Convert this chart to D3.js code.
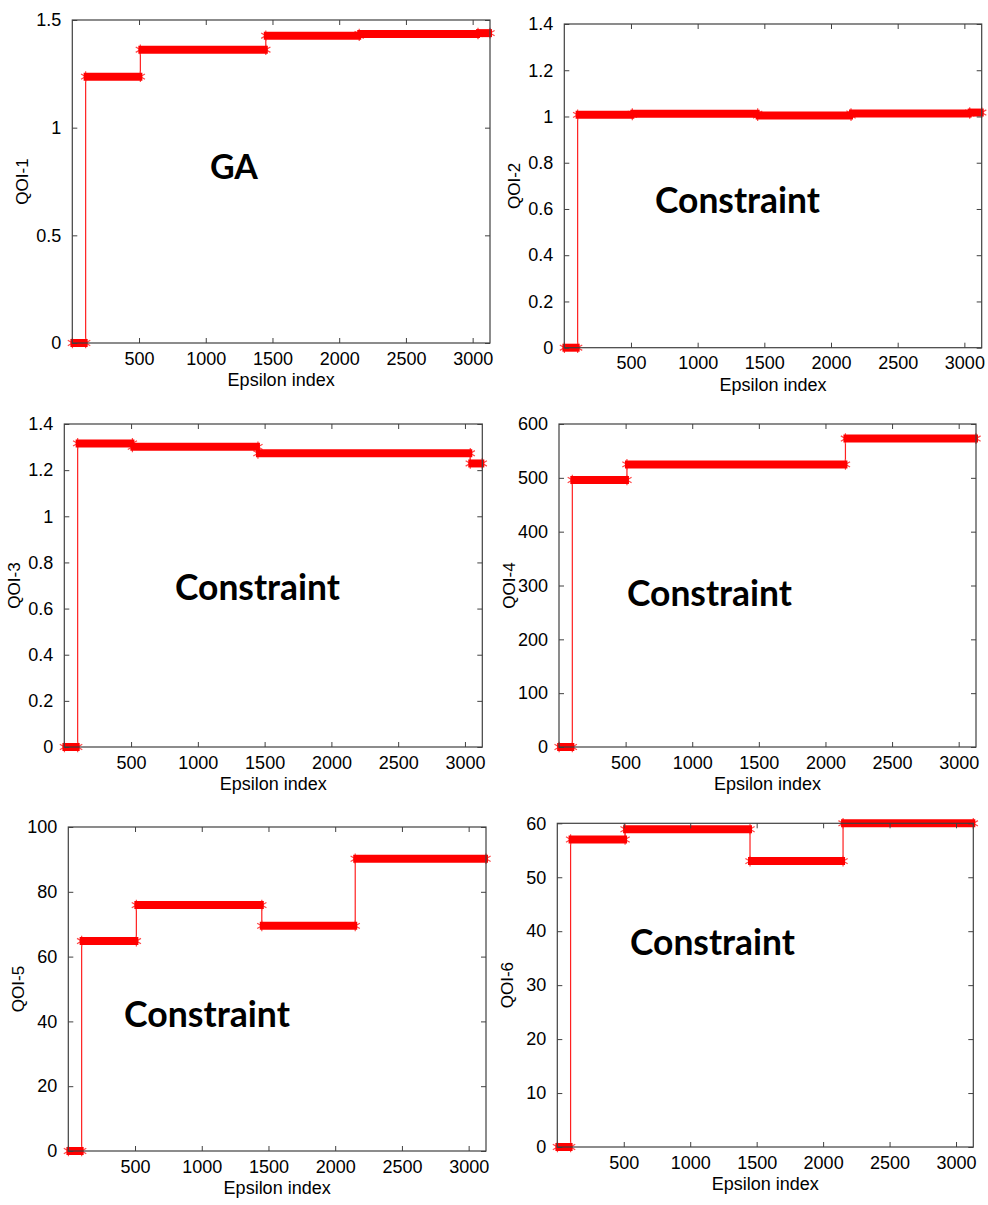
<!DOCTYPE html>
<html>
<head>
<meta charset="utf-8">
<script src="https://cdn.jsdelivr.net/npm/d3@7"></script>
<style>
  body { margin: 0; background: #fff; }
  svg { display: block; }
</style>
</head>
<body>
<div id="chart"></div>
<script>
// step starts (epsilon index) shared by all six QOI curves
const stepStarts = [1, 100, 510, 1450, 2150, 3040];
const stepEnd = 3130;
const xTicks = [500, 1000, 1500, 2000, 2500, 3000];

// level of each QOI on each step
const qoi1 = [0, 1.237, 1.362, 1.427, 1.435, 1.439];
const qoi2 = [0, 1.007, 1.012, 1.004, 1.013, 1.017];
const qoi3 = [0, 1.316, 1.301, 1.273, 1.273, 1.229];
const qoi4 = [0, 496, 525, 525, 573, 573];
const qoi5 = [0, 64.8, 75.9, 69.5, 90.2, 90.2];
const qoi6 = [0, 57.0, 58.9, 53.0, 60.0, 60.0];

const yTicks1 = [0, 0.5, 1, 1.5];
const yTicks2 = [0, 0.2, 0.4, 0.6, 0.8, 1, 1.2, 1.4];
const yTicks3 = [0, 0.2, 0.4, 0.6, 0.8, 1, 1.2, 1.4];
const yTicks4 = [0, 100, 200, 300, 400, 500, 600];
const yTicks5 = [0, 20, 40, 60, 80, 100];
const yTicks6 = [0, 10, 20, 30, 40, 50, 60];

const yLabels = ["QOI-1", "QOI-2", "QOI-3", "QOI-4", "QOI-5", "QOI-6"];
const notes = ["GA", "Constraint", "Constraint", "Constraint", "Constraint", "Constraint"];

// box of each panel and where its note goes
var panels = [
  { values: qoi1, ticks: yTicks1, box: [72.3, 20, 490, 343], note: [210, 179, 48] },
  { values: qoi2, ticks: yTicks2, box: [564.3, 24, 981.7, 347.7], note: [655, 213, 165] },
  { values: qoi3, ticks: yTicks3, box: [64.3, 424, 482.3, 747], note: [175, 600, 165] },
  { values: qoi4, ticks: yTicks4, box: [559, 424, 976, 747], note: [627, 606, 165] },
  { values: qoi5, ticks: yTicks5, box: [68.3, 827, 486, 1151], note: [124, 1027, 166] },
  { values: qoi6, ticks: yTicks6, box: [557.3, 823.3, 973.3, 1147], note: [630, 955, 165] }
];

var width = 988, height = 1205;
var axisColor = "#404040";
var font = "'Liberation Sans', Arial, sans-serif";

var svg = d3.select("#chart").append("svg")
  .attr("width", width)
  .attr("height", height);

var fmt = d3.format("~g");
var star = d3.symbol(d3.symbolAsterisk, 80);

panels.forEach(function(p, i) {
  var [x0, y0, x1, y1] = p.box;
  var ticks = p.ticks;
  var x = d3.scaleLinear().domain([0, stepEnd]).range([x0, x1]);
  var y = d3.scaleLinear().domain([ticks[0], ticks[ticks.length - 1]]).range([y1, y0]);

  var g = svg.append("g");

  // thin step line
  var pts = p.values.map(function(v, k) { return [stepStarts[k], v]; });
  pts.push([stepEnd, p.values[p.values.length - 1]]);
  var line = d3.line()
    .x(function(d) { return x(d[0]); })
    .y(function(d) { return y(d[1]); })
    .curve(d3.curveStepAfter);
  g.append("path")
    .attr("d", line(pts))
    .attr("fill", "none")
    .attr("stroke", "#ff2020")
    .attr("stroke-width", 1.2);

  // runs of equal level -> thick bands of markers
  var runs = [];
  p.values.forEach(function(v, k) {
    var a = stepStarts[k], b = k + 1 < stepStarts.length ? stepStarts[k + 1] : stepEnd;
    var last = runs[runs.length - 1];
    if (last && last.v === v) last.b = b;
    else runs.push({ a: a, b: b, v: v });
  });

  var ends = [];
  runs.forEach(function(r) { ends.push([r.a, r.v]); ends.push([r.b, r.v]); });
  g.selectAll("path.mk").data(ends).enter().append("path")
    .attr("class", "mk")
    .attr("d", star)
    .attr("transform", function(d) { return "translate(" + x(d[0]) + "," + y(d[1]) + ")"; })
    .attr("fill", "none")
    .attr("stroke", "#ff4848")
    .attr("stroke-width", 1.2);

  g.selectAll("line.band").data(runs).enter().append("line")
    .attr("class", "band")
    .attr("x1", function(d) { return x(d.a) - 2; })
    .attr("x2", function(d) { return x(d.b) + 2; })
    .attr("y1", function(d) { return y(d.v); })
    .attr("y2", function(d) { return y(d.v); })
    .attr("stroke", "#ff0000")
    .attr("stroke-width", 8);

  // box with inward ticks on all sides
  var bottom = g.append("g").attr("transform", "translate(0," + y1 + ")")
    .call(d3.axisBottom(x).tickValues(xTicks).tickSizeInner(-5).tickSizeOuter(0).tickPadding(9).tickFormat(fmt));
  var top = g.append("g").attr("transform", "translate(0," + y0 + ")")
    .call(d3.axisTop(x).tickValues(xTicks).tickSizeInner(-5).tickSizeOuter(0).tickFormat(""));
  var left = g.append("g").attr("transform", "translate(" + x0 + ",0)")
    .call(d3.axisLeft(y).tickValues(ticks).tickSizeInner(-5).tickSizeOuter(0).tickPadding(11).tickFormat(fmt));
  var right = g.append("g").attr("transform", "translate(" + x1 + ",0)")
    .call(d3.axisRight(y).tickValues(ticks).tickSizeInner(-5).tickSizeOuter(0).tickFormat(""));

  [bottom, top, left, right].forEach(function(a) {
    a.select(".domain").remove();
    a.selectAll(".tick line").attr("stroke", axisColor);
    a.selectAll("text")
      .attr("font-family", font)
      .attr("font-size", 18)
      .attr("fill", "#000");
  });

  g.append("rect")
    .attr("x", x0).attr("y", y0)
    .attr("width", x1 - x0).attr("height", y1 - y0)
    .attr("fill", "none")
    .attr("stroke", axisColor)
    .attr("stroke-width", 1.2);

  // axis titles
  g.append("text")
    .attr("x", (x0 + x1) / 2)
    .attr("y", y1 + 43)
    .attr("text-anchor", "middle")
    .attr("font-family", font)
    .attr("font-size", 18)
    .text("Epsilon index");

  g.append("text")
    .attr("transform", "translate(" + (x0 - 44) + "," + ((y0 + y1) / 2) + ") rotate(-90)")
    .attr("text-anchor", "middle")
    .attr("font-family", font)
    .attr("font-size", 17)
    .text(yLabels[i]);

  // note inside the plot, sized to the reference width
  var t = g.append("text")
    .attr("x", p.note[0])
    .attr("y", p.note[1])
    .attr("font-family", "Lato, 'Open Sans', sans-serif")
    .attr("font-weight", "bold")
    .attr("font-size", 34)
    .attr("fill", "#000")
    .text(notes[i]);
  var w = t.node().getComputedTextLength();
  if (w > 0) t.attr("font-size", 34 * p.note[2] / w);
});
</script>
</body>
</html>
